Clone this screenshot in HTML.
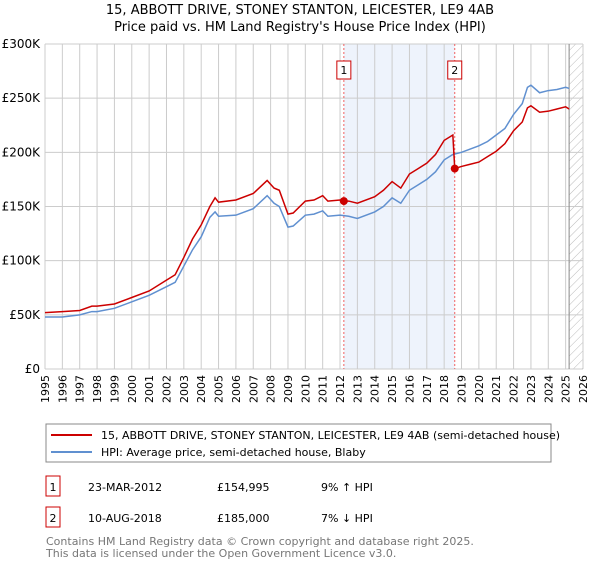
<!DOCTYPE html>
<html><head><meta charset="utf-8"><style>
body{margin:0;background:#fff;font-family:"DejaVu Sans","Liberation Sans",sans-serif;}
svg text{font-family:"DejaVu Sans","Liberation Sans",sans-serif;}
</style></head><body>
<svg id="c" width="600" height="560" xmlns="http://www.w3.org/2000/svg">
<defs><pattern id="hatch" width="6" height="6" patternUnits="userSpaceOnUse" patternTransform="rotate(45)"><line x1="0" y1="0" x2="0" y2="6" stroke="#bbb" stroke-width="1"/></pattern></defs>
<text x="300" y="14" text-anchor="middle" font-size="13">15, ABBOTT DRIVE, STONEY STANTON, LEICESTER, LE9 4AB</text>
<text x="300" y="31" text-anchor="middle" font-size="13">Price paid vs. HM Land Registry's House Price Index (HPI)</text>
<g id="plot"></g>
<rect x="46" y="424" width="505" height="38" fill="#fff" stroke="#888"/>
<line x1="51" y1="435" x2="92" y2="435" stroke="#cc0000" stroke-width="2"/>
<text x="101" y="439" font-size="11">15, ABBOTT DRIVE, STONEY STANTON, LEICESTER, LE9 4AB (semi-detached house)</text>
<line x1="51" y1="452" x2="92" y2="452" stroke="#6090d0" stroke-width="2"/>
<text x="101" y="456" font-size="11">HPI: Average price, semi-detached house, Blaby</text>
<g>
<rect x="46" y="476" width="14" height="20" fill="#fff" stroke="#cc0000"/><text x="53" y="491" font-size="11" text-anchor="middle">1</text>
<text x="88" y="491" font-size="11">23-MAR-2012</text><text x="217" y="491" font-size="11">£154,995</text><text x="321" y="491" font-size="11">9% ↑ HPI</text></g>
<g>
<rect x="46" y="507" width="14" height="20" fill="#fff" stroke="#cc0000"/><text x="53" y="522" font-size="11" text-anchor="middle">2</text>
<text x="88" y="522" font-size="11">10-AUG-2018</text><text x="217" y="522" font-size="11">£185,000</text><text x="321" y="522" font-size="11">7% ↓ HPI</text></g>
<text x="46" y="545" font-size="11" fill="#777">Contains HM Land Registry data © Crown copyright and database right 2025.</text>
<text x="46" y="557" font-size="11" fill="#777">This data is licensed under the Open Government Licence v3.0.</text>
</svg>
<script>
const yTicks=[0,50,100,150,200,250,300];
const yTickLabels=["£0","£50K","£100K","£150K","£200K","£250K","£300K"];
const years=[1995,1996,1997,1998,1999,2000,2001,2002,2003,2004,2005,2006,2007,2008,2009,2010,2011,2012,2013,2014,2015,2016,2017,2018,2019,2020,2021,2022,2023,2024,2025,2026];
const hpiDates=[1995,1996,1997,1997.7,1998,1999,2000,2001,2002,2002.5,2003,2003.5,2004,2004.5,2004.8,2005,2006,2007,2007.8,2008.2,2008.5,2009,2009.3,2010,2010.5,2011,2011.3,2012,2012.5,2013,2014,2014.5,2015,2015.5,2016,2016.5,2017,2017.5,2018,2018.5,2019,2019.5,2020,2020.5,2021,2021.5,2022,2022.5,2022.8,2023,2023.5,2024,2024.5,2025,2025.2];
const hpiValues=[48,48,50,53,53,56,62,68,76,80,95,110,122,140,145,141,142,148,160,153,150,131,132,142,143,146,141,142,141,139,145,150,158,153,165,170,175,182,193,198,200,203,206,210,216,222,235,245,260,262,255,257,258,260,259];
const priceDates=[1995,1996,1997,1997.7,1998,1999,2000,2001,2002,2002.5,2003,2003.5,2004,2004.5,2004.8,2005,2006,2007,2007.8,2008.2,2008.5,2009,2009.3,2010,2010.5,2011,2011.3,2012,2012.22,2012.5,2013,2014,2014.5,2015,2015.5,2016,2016.5,2017,2017.5,2018,2018.5,2018.61,2019,2019.5,2020,2020.5,2021,2021.5,2022,2022.5,2022.8,2023,2023.5,2024,2024.5,2025,2025.2];
const priceValues=[52,53,54,58,58,60,66,72,82,87,103,120,133,150,158,154,156,162,174,167,165,143,144,155,156,160,155,156,155,155,153,159,165,173,167,180,185,190,198,211,216,185,187,189,191,196,201,208,220,228,241,243,237,238,240,242,240];
const saleDates=[2012.22,2018.61];
const saleValues=[154.995,185];
const saleLabels=["1","2"];
const X0=45,X1=583,Y0=369,Y1=44;
const xs=t=>X0+(t-1995)/(2026-1995)*(X1-X0);
const ys=v=>Y0-v/300*(Y0-Y1);
const NS="http://www.w3.org/2000/svg";
const g=document.getElementById('plot');
function mk(tag,a){const e=document.createElementNS(NS,tag);for(const k in a)e.setAttribute(k,a[k]);g.appendChild(e);return e;}
let e;
e=mk('rect',{x:xs(saleDates[0]),y:Y1,width:xs(saleDates[1])-xs(saleDates[0]),height:Y0-Y1,fill:'#eef3fc'});


e=mk('rect',{x:xs(2025.2),y:Y1,width:X1-xs(2025.2),height:Y0-Y1,fill:'url(#hatch)'});


years.forEach(y=>{
 e=mk('line',{x1:xs(y),x2:xs(y),y1:Y1,y2:Y0,stroke:'#ccc'});
 
 
 e=mk('text',{x:0,y:0,'font-size':11,'text-anchor':'end',transform:`translate(${xs(y)+4},${Y0+6}) rotate(-90)`});
 e.textContent=y;
 
 
});
yTicks.forEach((v,i)=>{
 e=mk('line',{x1:X0,x2:X1,y1:ys(v),y2:ys(v),stroke:'#ccc'});
 
 
 e=mk('text',{x:X0-5,y:ys(v)+4,'font-size':12,'text-anchor':'end'});
 e.textContent=yTickLabels[i];
 
 
});
e=mk('line',{x1:xs(2025.2),x2:xs(2025.2),y1:Y1,y2:Y0,stroke:'#888'});


saleDates.forEach((d,i)=>{
 e=mk('line',{x1:xs(d),x2:xs(d),y1:Y1,y2:Y0,stroke:'#f06060','stroke-dasharray':'2,2'});
 
 
});
e=mk('polyline',{points:hpiDates.map((d,i)=>xs(d)+','+ys(hpiValues[i])).join(' '),fill:'none',stroke:'#6090d0','stroke-width':1.5});


e=mk('polyline',{points:priceDates.map((d,i)=>xs(d)+','+ys(priceValues[i])).join(' '),fill:'none',stroke:'#cc0000','stroke-width':1.5});


saleDates.forEach((d,i)=>{
 e=mk('circle',{cx:xs(d),cy:ys(saleValues[i]),r:4,fill:'#cc0000'});
 
 
 e=mk('rect',{x:xs(d)-7,y:61,width:14,height:18,fill:'#fff',stroke:'#cc0000'});
 
 
 e=mk('text',{x:xs(d),y:74,'font-size':11,'text-anchor':'middle'});
 e.textContent=saleLabels[i];
 
 
});
</script>
</body></html>
